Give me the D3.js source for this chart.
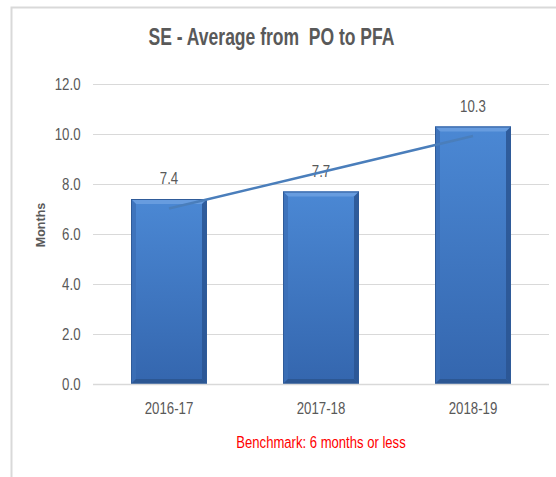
<!DOCTYPE html>
<html>
<head>
<meta charset="utf-8">
<script src="https://cdn.jsdelivr.net/npm/d3@7"></script>
<style>
  html, body { margin: 0; padding: 0; background: #fff; }
  svg { display: block; }
</style>
</head>
<body>
<svg id="chart" width="556" height="477"></svg>
<script>
const categories = ["2016-17", "2017-18", "2018-19"];
const values = [7.4, 7.7, 10.3];
const trendValues = [7.02, 8.47, 9.92];
const yTicks = [0, 2, 4, 6, 8, 10, 12];
const titleText = "SE - Average from  PO to PFA";
const yAxisTitle = "Months";
const noteText = "Benchmark: 6 months or less";

const svg = d3.select("#chart");
const font = "'Liberation Sans', Arial, sans-serif";
const textGray = "#595959";
const sx = 0.78;

// frame
svg.append("rect").attr("x", 11.5).attr("y", 7.5).attr("width", 600).attr("height", 600)
  .attr("fill", "#fff").attr("stroke", "#d9d9d9").attr("stroke-width", 2);

const x = d3.scaleBand().domain(categories).range([93, 549]).paddingInner(0.5).paddingOuter(0.25);
const y = d3.scaleLinear().domain([0, 12]).range([384, 84]);

const defs = svg.append("defs");
const g1 = defs.append("linearGradient").attr("id", "barGrad").attr("x1", 0).attr("y1", 0).attr("x2", 0).attr("y2", 1);
g1.append("stop").attr("offset", "0%").attr("stop-color", "#4b88d4");
g1.append("stop").attr("offset", "100%").attr("stop-color", "#3466ae");

// gridlines
svg.append("g").selectAll("line").data(yTicks.slice(1)).join("line")
  .attr("x1", 93).attr("x2", 549)
  .attr("y1", d => Math.round(y(d)) + 0.5).attr("y2", d => Math.round(y(d)) + 0.5)
  .attr("stroke", "#d9d9d9").attr("stroke-width", 1);

// y axis labels
const yAxis = d3.axisLeft(y).tickValues(yTicks).tickFormat(d3.format(".1f")).tickSize(0).tickPadding(16);
const ya = svg.append("g").attr("transform", "translate(93,0)").call(yAxis);
ya.select(".domain").remove();
ya.selectAll("text").attr("font-family", font).attr("font-size", 17).attr("fill", textGray)
  .attr("transform", `scale(${sx},1)`);

// bars
const bev = 5;
const bars = svg.append("g").selectAll("g").data(categories).join("g");
bars.each(function(c, i) {
  const g = d3.select(this);
  const x0 = x(c), w = x.bandwidth(), y0 = y(values[i]), y1 = y(0), h = y1 - y0;
  g.append("rect").attr("x", x0).attr("y", y0).attr("width", w).attr("height", h).attr("fill", "url(#barGrad)");
  g.append("polygon").attr("points", [[x0, y0], [x0 + w, y0], [x0 + w - bev, y0 + bev], [x0 + bev, y0 + bev]].join(" "))
    .attr("fill", "#6a9fe0").attr("opacity", 0.9);
  g.append("polygon").attr("points", [[x0, y0], [x0 + bev, y0 + bev], [x0 + bev, y1 - bev], [x0, y1]].join(" "))
    .attr("fill", "#3c6fb6").attr("opacity", 0.8);
  g.append("polygon").attr("points", [[x0 + w, y0], [x0 + w - bev, y0 + bev], [x0 + w - bev, y1 - bev], [x0 + w, y1]].join(" "))
    .attr("fill", "#2a5592").attr("opacity", 0.85);
  g.append("polygon").attr("points", [[x0, y1], [x0 + bev, y1 - bev], [x0 + w - bev, y1 - bev], [x0 + w, y1]].join(" "))
    .attr("fill", "#2b5590").attr("opacity", 0.9);
  g.append("rect").attr("x", x0 + 0.5).attr("y", y0 + 0.5).attr("width", w - 1).attr("height", h - 1)
    .attr("fill", "none").attr("stroke", "#2f5b99").attr("stroke-width", 1);
});

// axis line
svg.append("line").attr("x1", 93).attr("x2", 549).attr("y1", 384.5).attr("y2", 384.5)
  .attr("stroke", "#d9d9d9").attr("stroke-width", 1.5);

function scaledText(px, py, str, size, opts = {}) {
  const g = svg.append("g").attr("transform", `translate(${px},${py}) scale(${opts.sx || sx},1)`);
  return g.append("text").attr("x", 0).attr("y", 0).attr("text-anchor", "middle")
    .attr("font-family", font).attr("font-size", size).attr("fill", opts.fill || textGray)
    .attr("font-weight", opts.weight || "normal").style("white-space", "pre").text(str);
}

// data labels
categories.forEach((c, i) => {
  scaledText(x(c) + x.bandwidth() / 2, y(values[i]) - 15, values[i].toFixed(1), 17);
});

// trend line
const line = d3.line().x((d, i) => x(categories[i]) + x.bandwidth() / 2).y(d => y(d));
svg.append("path").datum(trendValues).attr("d", line)
  .attr("fill", "none").attr("stroke", "#4a7ebb").attr("stroke-width", 2.5);

// x axis labels
const xAxis = d3.axisBottom(x).tickSize(0).tickPadding(18);
const xa = svg.append("g").attr("transform", "translate(0,384)").call(xAxis);
xa.select(".domain").remove();
xa.selectAll("text").attr("font-family", font).attr("font-size", 17).attr("fill", textGray)
  .attr("transform", `scale(${sx},1)`);

// title
scaledText(271.5, 45, titleText, 24, { sx: 0.73, weight: "bold" });

// y axis title
svg.append("text").attr("transform", "translate(45,225) rotate(-90)").attr("text-anchor", "middle")
  .attr("font-family", font).attr("font-weight", "bold").attr("font-size", 12.5)
  .attr("fill", textGray).text(yAxisTitle);

// note
scaledText(321, 448, noteText, 17, { sx: 0.77, fill: "#ff0000" });
</script>
</body>
</html>
